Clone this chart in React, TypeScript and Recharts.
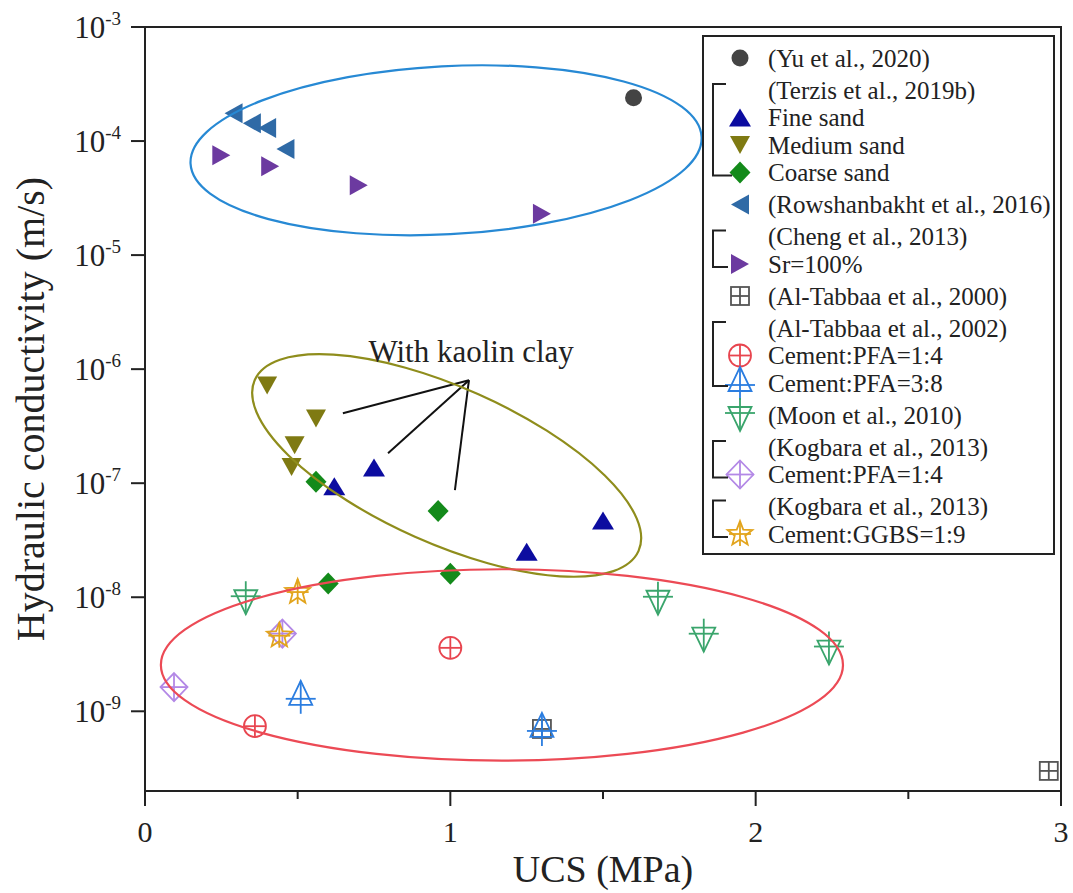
import React from 'react';
import {
  ScatterChart,
  Scatter,
  XAxis,
  YAxis,
  ReferenceArea,
  ReferenceDot,
  ReferenceLine,
} from 'recharts';

// ---- data (UCS in MPa, hydraulic conductivity in m/s) ----
const yuData = [{ x: 1.6, y: 2.4e-4 }];
const fineSand = [
  { x: 0.62, y: 9.4e-8 },
  { x: 0.75, y: 1.37e-7 },
  { x: 1.25, y: 2.5e-8 },
  { x: 1.5, y: 4.7e-8 },
];
const mediumSand = [
  { x: 0.4, y: 7.2e-7 },
  { x: 0.56, y: 3.7e-7 },
  { x: 0.49, y: 2.15e-7 },
  { x: 0.48, y: 1.39e-7 },
];
const coarseSand = [
  { x: 0.56, y: 1.03e-7 },
  { x: 0.96, y: 5.7e-8 },
  { x: 1.0, y: 1.61e-8 },
  { x: 0.6, y: 1.32e-8 },
];
const rowshanData = [
  { x: 0.29, y: 1.75e-4 },
  { x: 0.35, y: 1.43e-4 },
  { x: 0.4, y: 1.3e-4 },
  { x: 0.46, y: 8.5e-5 },
];
const chengData = [
  { x: 0.25, y: 7.5e-5 },
  { x: 0.41, y: 6.0e-5 },
  { x: 0.7, y: 4.1e-5 },
  { x: 1.3, y: 2.3e-5 },
];
const alTabbaa2000 = [
  { x: 1.3, y: 7.0e-10 },
  { x: 2.96, y: 3.0e-10 },
];
const alTabbaaPfa14 = [
  { x: 1.0, y: 3.6e-9 },
  { x: 0.36, y: 7.4e-10 },
];
const alTabbaaPfa38 = [
  { x: 0.51, y: 1.34e-9 },
  { x: 1.3, y: 7.0e-10 },
];
const moonData = [
  { x: 0.33, y: 9.8e-9 },
  { x: 1.68, y: 9.7e-9 },
  { x: 1.83, y: 4.6e-9 },
  { x: 2.24, y: 3.55e-9 },
];
const kogbaraPfa = [
  { x: 0.45, y: 4.8e-9 },
  { x: 0.095, y: 1.63e-9 },
];
const kogbaraGgbs = [
  { x: 0.5, y: 1.11e-8 },
  { x: 0.44, y: 4.6e-9 },
];

const X_TICKS = [0, 0.5, 1, 1.5, 2, 2.5, 3];
const Y_TICKS = [1e-9, 1e-8, 1e-7, 1e-6, 1e-5, 1e-4, 1e-3];
const Y_DOMAIN = [2e-10, 1e-3];

// group outlines: centre in data units, semi-axes in MPa / decades
const groupOutlines = [
  { x: 0.986, y: 8.3e-5, rx: 0.838, ry: 0.737, angle: -3, color: '#2789d4' },
  { x: 0.988, y: 1.43e-7, rx: 0.688, ry: 0.684, angle: 24, color: '#8f8d1c' },
  { x: 1.169, y: 2.55e-9, rx: 1.117, ry: 0.839, angle: 0, color: '#ec4a55' },
];

// "With kaolin clay" pointer
const kaolinHub = { x: 1.061, y: 8.0e-7 };
const kaolinTargets = [
  { x: 0.648, y: 4.1e-7 },
  { x: 0.796, y: 1.83e-7 },
  { x: 1.015, y: 8.7e-8 },
];
const kaolinLabel = { x: 1.068, y: 1.44e-6, text: 'With kaolin clay' };

const series = [
  { key: 'yu', data: yuData, kind: 'circle', color: '#444444' },
  { key: 'fine', data: fineSand, kind: 'up', color: '#0c0ca0' },
  { key: 'medium', data: mediumSand, kind: 'down', color: '#7f7a12' },
  { key: 'coarse', data: coarseSand, kind: 'diamond', color: '#138a1a' },
  { key: 'rowshan', data: rowshanData, kind: 'left', color: '#2f6aa6' },
  { key: 'cheng', data: chengData, kind: 'right', color: '#6c3aa0' },
  { key: 'alt2000', data: alTabbaa2000, kind: 'squareCross', color: '#555555' },
  { key: 'alt14', data: alTabbaaPfa14, kind: 'circleCross', color: '#e8454f' },
  { key: 'alt38', data: alTabbaaPfa38, kind: 'upCross', color: '#2b7de0' },
  { key: 'moon', data: moonData, kind: 'downCross', color: '#3aa56c' },
  { key: 'kogPfa', data: kogbaraPfa, kind: 'diamondCross', color: '#b388e6' },
  { key: 'kogGgbs', data: kogbaraGgbs, kind: 'starCross', color: '#e2a41c' },
];

const legendGroups = [
  [{ text: '(Yu et al., 2020)', key: 'yu' }],
  [
    { text: '(Terzis et al., 2019b)' },
    { text: 'Fine sand', key: 'fine' },
    { text: 'Medium sand', key: 'medium' },
    { text: 'Coarse sand', key: 'coarse' },
  ],
  [{ text: '(Rowshanbakht et al., 2016)', key: 'rowshan' }],
  [{ text: '(Cheng et al., 2013)' }, { text: 'Sr=100%', key: 'cheng' }],
  [{ text: '(Al-Tabbaa et al., 2000)', key: 'alt2000' }],
  [
    { text: '(Al-Tabbaa et al., 2002)' },
    { text: 'Cement:PFA=1:4', key: 'alt14' },
    { text: 'Cement:PFA=3:8', key: 'alt38' },
  ],
  [{ text: '(Moon et al., 2010)', key: 'moon' }],
  [{ text: '(Kogbara et al., 2013)' }, { text: 'Cement:PFA=1:4', key: 'kogPfa' }],
  [{ text: '(Kogbara et al., 2013)' }, { text: 'Cement:GGBS=1:9', key: 'kogGgbs' }],
];

// ---- layout ----
const W = 1073;
const H = 893;
const MARGIN = { top: 27, right: 12, bottom: 0, left: 0 };
const Y_AXIS_W = 145;
const X_AXIS_H = 102;
const PLOT_W = W - MARGIN.left - MARGIN.right - Y_AXIS_W;
const PLOT_H = H - MARGIN.top - MARGIN.bottom - X_AXIS_H;
const PX_PER_MPA = PLOT_W / 3;
const PX_PER_DECADE = PLOT_H / Math.log10(Y_DOMAIN[1] / Y_DOMAIN[0]);
const FONT = '"Liberation Serif", "Times New Roman", serif';
const INK = '#222';

const pts = (cx: number, cy: number, list: number[][]) =>
  list.map(([dx, dy]) => `${cx + dx},${cy + dy}`).join(' ');

const starPts = (cx: number, cy: number, ro: number, ri: number) => {
  const out: number[][] = [];
  for (let i = 0; i < 10; i++) {
    const r = i % 2 === 0 ? ro : ri;
    const a = -Math.PI / 2 + (i * Math.PI) / 5;
    out.push([r * Math.cos(a), r * Math.sin(a)]);
  }
  return pts(cx, cy, out);
};

const Marker = ({ kind, cx, cy, color }: any) => {
  const sw = 1.8;
  const open = { fill: 'none', stroke: color, strokeWidth: sw };
  switch (kind) {
    case 'circle':
      return <circle cx={cx} cy={cy} r={8.5} fill={color} />;
    case 'up':
      return <polygon points={pts(cx, cy, [[0, -9], [11, 9], [-11, 9]])} fill={color} />;
    case 'down':
      return <polygon points={pts(cx, cy, [[-10, -9], [10, -9], [0, 9]])} fill={color} />;
    case 'left':
      return <polygon points={pts(cx, cy, [[-9, 0], [9, -10], [9, 10]])} fill={color} />;
    case 'right':
      return <polygon points={pts(cx, cy, [[9, 0], [-9, -10], [-9, 10]])} fill={color} />;
    case 'diamond':
      return <polygon points={pts(cx, cy, [[0, -11], [10.5, 0], [0, 11], [-10.5, 0]])} fill={color} />;
    case 'squareCross':
      return (
        <g {...open}>
          <rect x={cx - 9} y={cy - 9} width={18} height={18} />
          <line x1={cx - 9} x2={cx + 9} y1={cy} y2={cy} />
          <line x1={cx} x2={cx} y1={cy - 9} y2={cy + 9} />
        </g>
      );
    case 'circleCross':
      return (
        <g {...open}>
          <circle cx={cx} cy={cy} r={11} />
          <line x1={cx - 11} x2={cx + 11} y1={cy} y2={cy} />
          <line x1={cx} x2={cx} y1={cy - 11} y2={cy + 11} />
        </g>
      );
    case 'upCross':
      return (
        <g {...open}>
          <polygon points={pts(cx, cy, [[0, -16], [11.5, 8], [-11.5, 8]])} />
          <line x1={cx - 15} x2={cx + 15} y1={cy + 2} y2={cy + 2} />
          <line x1={cx} x2={cx} y1={cy - 16} y2={cy + 17} />
        </g>
      );
    case 'downCross':
      return (
        <g {...open}>
          <polygon points={pts(cx, cy, [[0, 16], [11.5, -8], [-11.5, -8]])} />
          <line x1={cx - 15} x2={cx + 15} y1={cy - 2} y2={cy - 2} />
          <line x1={cx} x2={cx} y1={cy - 17} y2={cy + 16} />
        </g>
      );
    case 'diamondCross':
      return (
        <g {...open}>
          <polygon points={pts(cx, cy, [[0, -14], [13.5, 0], [0, 14], [-13.5, 0]])} />
          <line x1={cx - 13.5} x2={cx + 13.5} y1={cy} y2={cy} />
          <line x1={cx} x2={cx} y1={cy - 14} y2={cy + 14} />
        </g>
      );
    case 'starCross':
      return (
        <g {...open}>
          <polygon points={starPts(cx, cy, 13, 5.5)} />
          <line x1={cx - 11} x2={cx + 11} y1={cy} y2={cy} />
          <line x1={cx} x2={cx} y1={cy - 13} y2={cy + 12} />
        </g>
      );
    default:
      return null;
  }
};

const XTick = ({ x, y, payload }: any) => {
  const major = Number.isInteger(payload.value);
  return (
    <g>
      <line x1={x} x2={x} y1={y} y2={y + (major ? 15 : 8)} stroke={INK} strokeWidth={2} />
      {major && (
        <text x={x} y={y + 51} textAnchor="middle" fontSize={30} style={{ fontFamily: FONT }} fill={INK}>
          {payload.value}
        </text>
      )}
    </g>
  );
};

const YTick = ({ x, y, payload }: any) => {
  const exp = Math.round(Math.log10(payload.value));
  return (
    <g>
      <line x1={x - 14} x2={x} y1={y} y2={y} stroke={INK} strokeWidth={2} />
      <text x={x - 24} y={y + 11} textAnchor="end" fontSize={31} style={{ fontFamily: FONT }} fill={INK}>
        <tspan>10</tspan>
        <tspan fontSize={19} dy={-13}>
          {exp}
        </tspan>
      </text>
    </g>
  );
};

const outlineShape = (o: any) => (p: any) => (
  <ellipse
    cx={p.cx}
    cy={p.cy}
    rx={o.rx * PX_PER_MPA}
    ry={o.ry * PX_PER_DECADE}
    transform={`rotate(${o.angle} ${p.cx} ${p.cy})`}
    fill="none"
    stroke={o.color}
    strokeWidth={2.2}
  />
);

const LINE_H = 27.5;
const GROUP_GAP = 4.5;

const ChartLegend = () => {
  const byKey: any = Object.fromEntries(series.map((s) => [s.key, s]));
  let yPos = 23 - LINE_H - GROUP_GAP;
  const nodes: any[] = [];
  legendGroups.forEach((group, gi) => {
    yPos += GROUP_GAP;
    const first = yPos + LINE_H;
    group.forEach((row, ri) => {
      yPos += LINE_H;
      const s = row.key ? byKey[row.key] : null;
      nodes.push(
        <g key={`${gi}-${ri}`}>
          {s && <Marker kind={s.kind} cx={38} cy={yPos} color={s.color} />}
          <text x={66} y={yPos} dominantBaseline="central" fontSize={25} style={{ fontFamily: FONT }} fill={INK}>
            {row.text}
          </text>
        </g>
      );
    });
    if (group.length > 1) {
      nodes.push(
        <path
          key={`b${gi}`}
          d={`M24,${first - 6} H11 V${yPos + 3} H${gi === 1 ? 30 : 26}`}
          fill="none"
          stroke={INK}
          strokeWidth={2}
        />
      );
    }
  });
  return (
    <div
      style={{
        position: 'absolute',
        left: 702,
        top: 35,
        width: 353,
        height: 520,
        boxSizing: 'border-box',
        border: `2px solid ${INK}`,
        background: '#fff',
      }}
    >
      <svg width={349} height={516} style={{ position: 'absolute', left: -2, top: -2, overflow: 'visible' }}>
        {nodes}
      </svg>
    </div>
  );
};

export default function App() {
  return (
    <div style={{ position: 'absolute', left: 0, top: 0, width: W, height: H, background: '#fff', fontFamily: FONT }}>
      <ScatterChart width={W} height={H} margin={MARGIN} style={{ fontFamily: FONT }}>
        <XAxis
          dataKey="x"
          type="number"
          domain={[0, 3]}
          ticks={X_TICKS}
          interval={0}
          height={X_AXIS_H}
          tickSize={0}
          tickMargin={0}
          tickLine={false}
          tick={(p: any) => <XTick {...p} />}
          axisLine={{ stroke: INK, strokeWidth: 2 }}
          allowDataOverflow
          label={(p: any) => {
            const vb = p.viewBox || { x: Y_AXIS_W, y: MARGIN.top + PLOT_H, width: PLOT_W };
            return (
              <text
                x={vb.x + vb.width / 2}
                y={vb.y + 91}
                textAnchor="middle"
                fontSize={38}
                style={{ fontFamily: FONT }}
                fill={INK}
              >
                UCS (MPa)
              </text>
            );
          }}
        />
        <YAxis
          dataKey="y"
          type="number"
          scale="log"
          domain={Y_DOMAIN}
          ticks={Y_TICKS}
          interval={0}
          width={Y_AXIS_W}
          tickSize={0}
          tickMargin={0}
          tickLine={false}
          tick={(p: any) => <YTick {...p} />}
          axisLine={{ stroke: INK, strokeWidth: 2 }}
          allowDataOverflow
          label={(p: any) => {
            const vb = p.viewBox || { x: 0, y: MARGIN.top, height: PLOT_H };
            const cx = vb.x + 44;
            const cy = vb.y + vb.height / 2;
            return (
              <text
                x={cx}
                y={cy}
                transform={`rotate(-90 ${cx} ${cy})`}
                textAnchor="middle"
                fontSize={40}
                style={{ fontFamily: FONT }}
                fill={INK}
              >
                Hydraulic conductivity (m/s)
              </text>
            );
          }}
        />
        <ReferenceArea
          x1={0}
          x2={3}
          y1={Y_DOMAIN[0]}
          y2={Y_DOMAIN[1]}
          fill="none"
          fillOpacity={0}
          stroke={INK}
          strokeWidth={2}
          ifOverflow="visible"
        />
        {series.map((s) => (
          <Scatter
            key={s.key}
            name={s.key}
            data={s.data}
            isAnimationActive={false}
            shape={(p: any) => <Marker kind={s.kind} cx={p.cx} cy={p.cy} color={s.color} />}
          />
        ))}
        {groupOutlines.map((o, i) => (
          <ReferenceDot key={`o${i}`} x={o.x} y={o.y} r={0} ifOverflow="visible" shape={outlineShape(o)} />
        ))}
        {kaolinTargets.map((t, i) => (
          <ReferenceLine
            key={`k${i}`}
            segment={[kaolinHub, t]}
            stroke="#111"
            strokeWidth={2}
            ifOverflow="visible"
          />
        ))}
        <ReferenceDot
          x={kaolinLabel.x}
          y={kaolinLabel.y}
          r={0}
          ifOverflow="visible"
          fill="none"
          stroke="none"
          label={{
            value: kaolinLabel.text,
            position: 'center',
            fontSize: 31,
            fontFamily: FONT,
            fill: INK,
          }}
        />
      </ScatterChart>
      <ChartLegend />
    </div>
  );
}
